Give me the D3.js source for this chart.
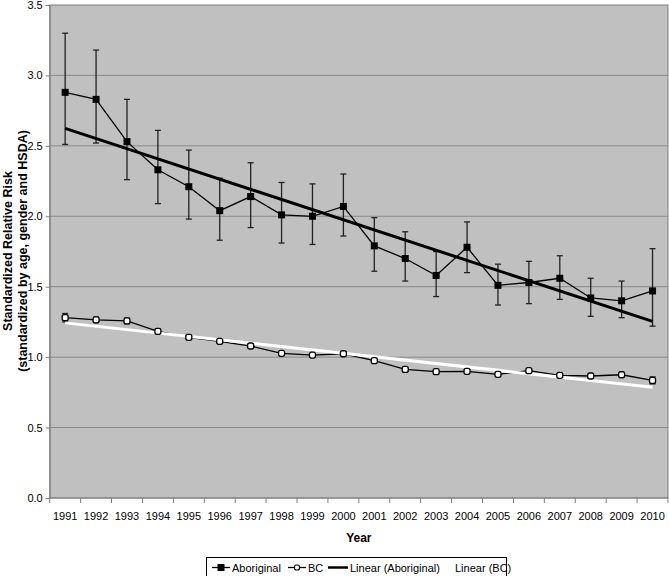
<!DOCTYPE html>
<html><head><meta charset="utf-8">
<script src="https://cdn.jsdelivr.net/npm/d3@7"></script>
<style>body{margin:0;background:#fff;} text{font-family:"Liberation Sans",Arial,sans-serif;}</style>
</head><body>
<svg id="chart" width="669" height="576"></svg>
<script>
const years = ["1991","1992","1993","1994","1995","1996","1997","1998","1999","2000","2001","2002","2003","2004","2005","2006","2007","2008","2009","2010"];
const aboriginal = [2.88,2.83,2.53,2.33,2.21,2.04,2.14,2.01,2.00,2.07,1.79,1.70,1.58,1.78,1.51,1.53,1.56,1.42,1.40,1.47];
const aboriginalUpper = [3.30,3.18,2.83,2.61,2.47,2.27,2.38,2.24,2.23,2.30,1.99,1.89,1.75,1.96,1.66,1.68,1.72,1.56,1.54,1.77];
const aboriginalLower = [2.51,2.52,2.26,2.09,1.98,1.83,1.92,1.81,1.80,1.86,1.61,1.54,1.43,1.60,1.37,1.38,1.41,1.29,1.28,1.22];
const bc = [1.28,1.265,1.257,1.183,1.141,1.112,1.079,1.027,1.015,1.024,0.975,0.913,0.897,0.899,0.878,0.904,0.871,0.866,0.875,0.835];
const bcUpper = [1.31,1.285,1.277,1.198,1.153,1.122,1.089,1.037,1.025,1.035,0.985,0.922,0.906,0.908,0.887,0.913,0.880,0.875,0.884,0.86];
const bcLower = [1.25,1.245,1.237,1.168,1.129,1.102,1.069,1.017,1.005,1.013,0.965,0.904,0.888,0.890,0.869,0.895,0.862,0.857,0.866,0.81];
const yTicks = [0,0.5,1.0,1.5,2.0,2.5,3.0,3.5];
const legendLabels = ["Aboriginal","BC","Linear (Aboriginal)","Linear (BC)"];

function linfit(vals){
  const n = vals.length; const xs = vals.map((_,i)=>i);
  const mx = d3.mean(xs), my = d3.mean(vals);
  let num=0, den=0; xs.forEach((x,i)=>{num+=(x-mx)*(vals[i]-my); den+=(x-mx)*(x-mx);});
  const b = num/den, a = my-b*mx;
  return [a, a+b*(n-1)];
}

const svg = d3.select("#chart");
const L=49.7, R=668, T=5, B=498;
const x = d3.scaleBand().domain(years).range([L,R]).padding(0);
const y = d3.scaleLinear().domain([0,3.5]).range([B,T]);
const cx = d => x(d)+x.bandwidth()/2;

svg.append("rect").attr("x",L).attr("y",T).attr("width",R-L).attr("height",B-T).attr("fill","#c0c0c0");
svg.append("g").selectAll("line").data(yTicks.slice(1,-1)).join("line")
  .attr("x1",L).attr("x2",R).attr("y1",d=>y(d)).attr("y2",d=>y(d)).attr("stroke","#8a8a8a").attr("stroke-width",1);
svg.append("rect").attr("x",L).attr("y",T).attr("width",R-L).attr("height",B-T).attr("fill","none").attr("stroke","#808080").attr("stroke-width",1);

// axes
const yAxis = svg.append("g").attr("transform",`translate(${L},0)`).call(d3.axisLeft(y).tickValues(yTicks).tickFormat(d3.format(".1f")).tickSize(4).tickPadding(3));
yAxis.select(".domain").attr("stroke","#808080");
yAxis.selectAll("line").attr("stroke","#808080");
yAxis.selectAll("text").attr("font-size","11px").attr("fill","#000");

const xAxisG = svg.append("g").attr("transform",`translate(0,${B})`);
xAxisG.append("line").attr("x1",L).attr("x2",R).attr("stroke","#808080");
xAxisG.selectAll("line.t").data(d3.range(years.length+1)).join("line").attr("class","t")
  .attr("x1",i=>L+i*x.bandwidth()).attr("x2",i=>L+i*x.bandwidth()).attr("y1",0).attr("y2",5).attr("stroke","#808080");
xAxisG.selectAll("text").data(years).join("text").attr("x",d=>cx(d)).attr("y",22)
  .attr("text-anchor","middle").attr("font-size","11px").text(d=>d);

svg.append("text").attr("x",(L+R)/2).attr("y",542).attr("text-anchor","middle").attr("font-size","12px").attr("font-weight","bold").text("Year");
const yt = svg.append("text").attr("transform","translate(0,251) rotate(-90)").attr("text-anchor","middle").attr("font-size","12.5px").attr("font-weight","bold");
yt.append("tspan").attr("x",0).attr("y",12).text("Standardized Relative Risk");
yt.append("tspan").attr("x",0).attr("y",27).text("(standardized by age, gender and HSDA)");

// error bars
function errBars(vals, up, lo, color, w){
  const g = svg.append("g").attr("stroke",color).attr("stroke-width",w);
  years.forEach((yr,i)=>{
    g.append("line").attr("x1",cx(yr)).attr("x2",cx(yr)).attr("y1",y(up[i])).attr("y2",y(lo[i]));
    g.append("line").attr("x1",cx(yr)-3).attr("x2",cx(yr)+3).attr("y1",y(up[i])).attr("y2",y(up[i]));
    g.append("line").attr("x1",cx(yr)-3).attr("x2",cx(yr)+3).attr("y1",y(lo[i])).attr("y2",y(lo[i]));
  });
}
errBars(aboriginal, aboriginalUpper, aboriginalLower, "#222", 1.3);
errBars(bc, bcUpper, bcLower, "#222", 1.3);

const line = d3.line().x((d,i)=>cx(years[i])).y(d=>y(d));
svg.append("path").datum(aboriginal).attr("d",line).attr("fill","none").attr("stroke","#000").attr("stroke-width",1.3);
svg.append("path").datum(bc).attr("d",line).attr("fill","none").attr("stroke","#000").attr("stroke-width",1.3);

// trend lines
const fa = linfit(aboriginal), fb = linfit(bc);
svg.append("line").attr("x1",cx(years[0])).attr("x2",cx(years[years.length-1])).attr("y1",y(fa[0])).attr("y2",y(fa[1])).attr("stroke","#000").attr("stroke-width",3);
svg.append("line").attr("x1",cx(years[0])).attr("x2",cx(years[years.length-1])).attr("y1",y(fb[0])).attr("y2",y(fb[1])).attr("stroke","#fff").attr("stroke-width",3);

// markers
svg.append("g").selectAll("rect").data(aboriginal).join("rect")
  .attr("x",(d,i)=>cx(years[i])-3.5).attr("y",d=>y(d)-3.5).attr("width",7).attr("height",7).attr("fill","#000");
svg.append("g").selectAll("rect").data(bc).join("rect")
  .attr("x",(d,i)=>cx(years[i])-3).attr("y",d=>y(d)-3).attr("width",6).attr("height",6).attr("rx",2)
  .attr("fill","#fff").attr("stroke","#000").attr("stroke-width",1.3);

// legend
const lg = svg.append("g");
lg.append("rect").attr("x",206.5).attr("y",557.5).attr("width",300).attr("height",22).attr("fill","#fff").attr("stroke","#000").attr("stroke-width",1);
const ly = 567.5;
const fs = "11px";
lg.append("line").attr("x1",212).attr("x2",230).attr("y1",ly).attr("y2",ly).attr("stroke","#000").attr("stroke-width",1.3);
lg.append("rect").attr("x",217.5).attr("y",ly-3.5).attr("width",7).attr("height",7).attr("fill","#000");
lg.append("text").attr("x",232).attr("y",ly+4).attr("font-size",fs).text(legendLabels[0]);
lg.append("line").attr("x1",288).attr("x2",306).attr("y1",ly).attr("y2",ly).attr("stroke","#000").attr("stroke-width",1.3);
lg.append("rect").attr("x",294.5).attr("y",ly-2.5).attr("width",5).attr("height",5).attr("rx",2).attr("fill","#fff").attr("stroke","#000").attr("stroke-width",1.2);
lg.append("text").attr("x",308).attr("y",ly+4).attr("font-size",fs).text(legendLabels[1]);
lg.append("line").attr("x1",328).attr("x2",348).attr("y1",ly).attr("y2",ly).attr("stroke","#000").attr("stroke-width",2.5);
lg.append("text").attr("x",350).attr("y",ly+4).attr("font-size",fs).text(legendLabels[2]);
lg.append("line").attr("x1",446).attr("x2",453).attr("y1",ly).attr("y2",ly).attr("stroke","#fff").attr("stroke-width",2.5);
lg.append("text").attr("x",455).attr("y",ly+4).attr("font-size",fs).text(legendLabels[3]);
</script>
</body></html>
